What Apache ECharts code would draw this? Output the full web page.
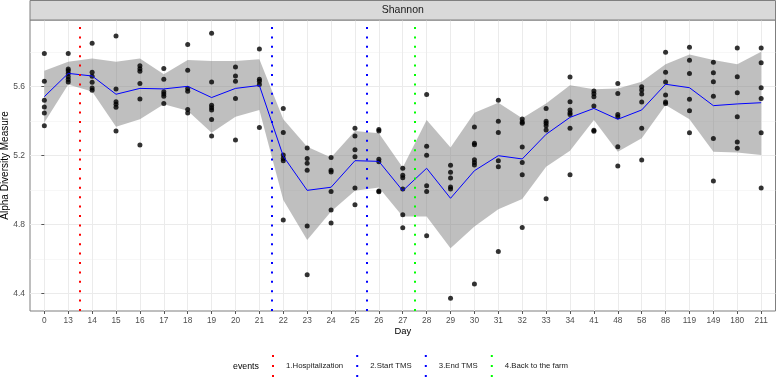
<!DOCTYPE html>
<html>
<head>
<meta charset="utf-8">
<title>Shannon</title>
<script src="https://cdn.jsdelivr.net/npm/echarts@6.0.0/dist/echarts.min.js"></script>
<style>
  html, body { margin: 0; padding: 0; background: #fff; }
  #main { width: 777px; height: 378px; }
</style>
</head>
<body>
<div id="main"></div>
<script>
// day categories (x axis)
var days = ['0','13','14','15','16','17','18','19','20','21','22','23','24','25','26','27','28','29','30','31','32','33','34','41','48','58','88','119','149','180','211'];

// sample values per day
var points = [
  [5.79, 5.63, 5.52, 5.48, 5.445, 5.372],
  [5.79, 5.70, 5.69, 5.675, 5.655, 5.64, 5.625],
  [5.849, 5.681, 5.658, 5.623, 5.59, 5.577],
  [5.892, 5.585, 5.511, 5.496, 5.478, 5.341],
  [5.72, 5.702, 5.687, 5.617, 5.527, 5.26],
  [5.704, 5.641, 5.569, 5.556, 5.542, 5.5],
  [5.843, 5.693, 5.588, 5.571, 5.465, 5.445],
  [5.907, 5.625, 5.49, 5.476, 5.463, 5.407, 5.312],
  [5.712, 5.66, 5.629, 5.529, 5.289],
  [5.816, 5.641, 5.629, 5.61, 5.362],
  [5.472, 5.333, 5.202, 5.181, 5.169, 4.825],
  [5.243, 5.181, 5.154, 5.113, 4.79, 4.508],
  [5.187, 5.113, 5.103, 4.99, 4.883, 4.808],
  [5.357, 5.312, 5.233, 5.192, 5.011, 4.914],
  [5.35, 5.341, 5.177, 5.163, 4.993, 4.989],
  [5.125, 5.085, 5.07, 5.005, 4.855, 4.78],
  [5.552, 5.252, 5.2, 5.024, 4.99, 4.734],
  [5.142, 5.102, 5.069, 5.017, 5.005, 4.371],
  [5.364, 5.27, 5.262, 5.175, 5.158, 5.144, 4.454],
  [5.519, 5.397, 5.333, 5.169, 5.134, 4.642],
  [5.41, 5.393, 5.386, 5.248, 5.158, 5.088, 4.781],
  [5.472, 5.397, 5.386, 5.372, 5.347, 4.949],
  [5.654, 5.511, 5.463, 5.447, 5.436, 5.357, 5.088],
  [5.573, 5.557, 5.54, 5.486, 5.345, 5.339],
  [5.617, 5.559, 5.436, 5.424, 5.25, 5.138],
  [5.598, 5.579, 5.556, 5.509, 5.357, 5.173],
  [5.797, 5.681, 5.625, 5.55, 5.509, 5.5],
  [5.826, 5.751, 5.675, 5.525, 5.459, 5.331],
  [5.739, 5.679, 5.627, 5.542, 5.297, 5.051],
  [5.822, 5.656, 5.563, 5.424, 5.277, 5.241],
  [5.822, 5.737, 5.592, 5.529, 5.331, 5.011]
];

// blue mean line
var meanVals = [5.54, 5.675, 5.66, 5.554, 5.588, 5.585, 5.60, 5.535, 5.588, 5.605, 5.195, 4.997, 5.015, 5.169, 5.165, 4.995, 5.125, 4.951, 5.111, 5.198, 5.179, 5.322, 5.42, 5.472, 5.409, 5.463, 5.612, 5.592, 5.488, 5.498, 5.505];

// grey ribbon
var bandLo = [5.39, 5.61, 5.57, 5.366, 5.409, 5.496, 5.459, 5.331, 5.424, 5.463, 4.941, 4.709, 4.874, 4.995, 5.013, 4.845, 4.845, 4.661, 4.787, 4.887, 4.947, 5.134, 5.227, 5.405, 5.221, 5.299, 5.492, 5.409, 5.221, 5.217, 5.202];
var bandHi = [5.69, 5.743, 5.762, 5.743, 5.762, 5.67, 5.753, 5.747, 5.747, 5.757, 5.409, 5.25, 5.188, 5.341, 5.328, 5.13, 5.405, 5.245, 5.447, 5.505, 5.415, 5.501, 5.606, 5.583, 5.588, 5.627, 5.728, 5.785, 5.753, 5.728, 5.801];

// events (position in category units, between two days)
var eventNames = ['1.Hospitalization', '2.Start TMS', '3.End TMS', '4.Back to the farm'];
var eventPos = [1.5, 9.5, 13.5, 15.5];
var eventColors = ['#FF0000', '#0000FF', '#0000FF', '#00FF00'];

var yTicks = [4.4, 4.8, 5.2, 5.6];
var yMinor = [4.6, 5.0, 5.4, 5.8];

var font = '"Liberation Sans", Arial, sans-serif';
var idx = days.map(function (d, i) { return i; });

var scatterData = [];
points.forEach(function (col, i) {
  col.forEach(function (v) { scatterData.push([i, v]); });
});

// ribbon polygon: upper edge left->right, lower edge right->left
function renderBand(params, api) {
  if (params.dataIndex !== 0) return;
  var poly = [];
  for (var i = 0; i < bandHi.length; i++) poly.push(api.coord([i, bandHi[i]]));
  for (var j = bandLo.length - 1; j >= 0; j--) poly.push(api.coord([j, bandLo[j]]));
  return {
    type: 'polygon',
    shape: { points: poly },
    style: { fill: 'rgba(128,128,128,0.5)' }
  };
}

var series = [
  {
    name: 'band', type: 'custom', silent: true, z: 1,
    renderItem: renderBand,
    data: [[0, bandLo[0]]]
  },
  {
    name: 'pts', type: 'scatter', silent: true, z: 3,
    data: scatterData, symbolSize: 5,
    itemStyle: { color: '#000' }
  },
  {
    name: 'mean', type: 'line', silent: true, symbol: 'none', z: 4,
    data: idx.map(function (i) { return [i, meanVals[i]]; }),
    lineStyle: { color: '#0000FF', width: 1 }
  }
];

eventNames.forEach(function (n, k) {
  series.push({
    name: n, type: 'line', data: [], color: eventColors[k], z: 5,
    markLine: {
      silent: true, symbol: ['none', 'none'], label: { show: false },
      lineStyle: { color: eventColors[k], type: [2, 7.4], width: 2 },
      data: [{ xAxis: eventPos[k] }]
    }
  });
});

var dotIcon = 'path://M0,0h2v2h-2z M0,10h2v2h-2z M0,20h2v2h-2z';

var option = {
  animation: false,
  grid: {
    left: 30, right: 1.5, top: 20, bottom: 67,
    outerBoundsMode: 'none', containLabel: false,
    show: true, borderColor: '#7f7f7f', borderWidth: 1
  },
  xAxis: {
    type: 'value', min: -0.6, max: 30.6,
    axisLine: { show: false },
    axisTick: { show: true, length: 3, customValues: idx, lineStyle: { color: '#555' } },
    axisLabel: {
      customValues: idx, margin: 5.5, fontSize: 8.3, color: '#4D4D4D', fontFamily: font,
      formatter: function (v) { return days[Math.round(v)]; }
    },
    splitLine: { show: true, lineStyle: { color: '#EBEBEB', width: 1 } },
    name: 'Day', nameLocation: 'middle', nameGap: 16, nameMoveOverlap: false,
    nameTextStyle: { fontSize: 9.4, color: '#000', fontFamily: font }
  },
  yAxis: [
    {
      type: 'value', min: 4.2976, max: 5.9845,
      axisLine: { show: false },
      axisTick: { show: true, length: 3, customValues: yTicks, lineStyle: { color: '#555' } },
      axisLabel: {
        customValues: yTicks, margin: 5, fontSize: 8.5, color: '#4D4D4D', fontFamily: font,
        formatter: function (v) { return v.toFixed(1); }
      },
      splitLine: { show: true, lineStyle: { color: '#EBEBEB', width: 1 } },
      name: 'Alpha Diversity Measure', nameLocation: 'middle', nameGap: 20, nameMoveOverlap: false,
      nameTextStyle: { fontSize: 10, color: '#000', fontFamily: font }
    },
    {
      // minor grid lines only
      type: 'value', min: 4.2976, max: 5.9845, position: 'left',
      axisLine: { show: false },
      axisTick: { show: false, customValues: yMinor },
      axisLabel: { show: false, customValues: yMinor },
      splitLine: { show: true, lineStyle: { color: '#F2F2F2', width: 0.6 } }
    }
  ],
  legend: {
    data: eventNames.map(function (n) { return { name: n, icon: dotIcon }; }),
    left: 272, top: 355, padding: 0,
    itemWidth: 2, itemHeight: 22, itemGap: 13,
    itemStyle: { borderWidth: 0 },
    selectedMode: false,
    textStyle: { fontSize: 7.8, color: '#1A1A1A', fontFamily: font, padding: [0, 0, 0, 7] }
  },
  graphic: [
    {
      type: 'rect', z: 10,
      shape: { x: 30, y: 0.5, width: 745.5, height: 19.5 },
      style: { fill: '#D9D9D9', stroke: '#7f7f7f', lineWidth: 1 }
    },
    {
      type: 'text', z: 11, x: 402.8, y: 10.5,
      style: { text: 'Shannon', fontSize: 10.5, fill: '#1A1A1A', fontFamily: font, align: 'center', verticalAlign: 'middle' }
    },
    {
      type: 'text', z: 11, x: 233, y: 367,
      style: { text: 'events', fontSize: 8.8, fill: '#000', fontFamily: font, align: 'left', verticalAlign: 'middle' }
    }
  ],
  series: series
};

var myChart = echarts.init(document.getElementById('main'));
myChart.setOption(option);
</script>
</body>
</html>
